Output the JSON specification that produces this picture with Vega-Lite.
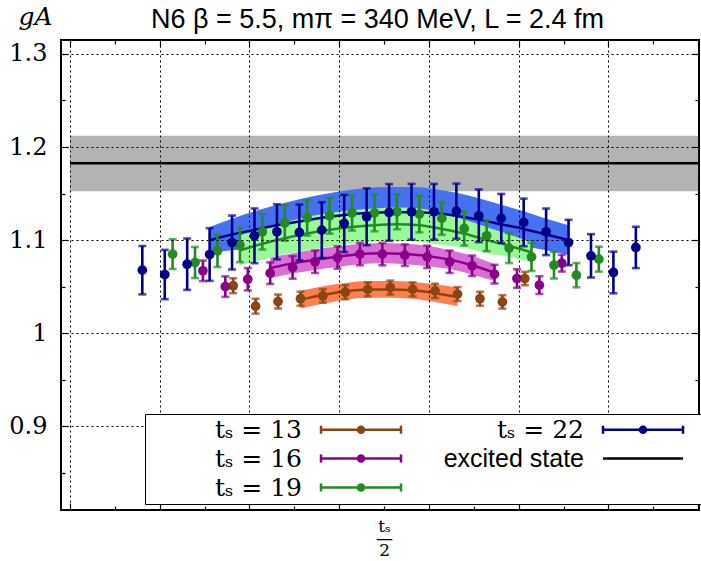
{
  "$schema": "https://vega.github.io/schema/vega-lite/v6.json",
  "width": 638,
  "height": 470,
  "autosize": {"type": "none"},
  "padding": {"left": 61, "top": 40, "right": 2, "bottom": 51},
  "background": "white",
  "config": {"view": {"stroke": "black", "strokeWidth": 2}},
  "datasets": {
    "excited": [{"series": "excited state", "g": 1.1825, "lo": 1.1524, "hi": 1.2121, "from": -14, "to": 14}],
    "keys": [{"series": "tₛ = 13"}, {"series": "tₛ = 16"}, {"series": "tₛ = 19"}, {"series": "tₛ = 22"}, {"series": "excited state"}],
    "bands": [
      {"series": "tₛ = 22", "x": -7.775, "c": 1.100, "lo": 1.086, "hi": 1.114},
      {"series": "tₛ = 22", "x": -6.775, "c": 1.106, "lo": 1.089, "hi": 1.123},
      {"series": "tₛ = 22", "x": -5.775, "c": 1.111, "lo": 1.091, "hi": 1.131},
      {"series": "tₛ = 22", "x": -4.775, "c": 1.116, "lo": 1.094, "hi": 1.138},
      {"series": "tₛ = 22", "x": -3.775, "c": 1.120, "lo": 1.096, "hi": 1.144},
      {"series": "tₛ = 22", "x": -2.775, "c": 1.124, "lo": 1.099, "hi": 1.149},
      {"series": "tₛ = 22", "x": -1.775, "c": 1.127, "lo": 1.101, "hi": 1.153},
      {"series": "tₛ = 22", "x": -0.775, "c": 1.129, "lo": 1.102, "hi": 1.156},
      {"series": "tₛ = 22", "x": 0.225, "c": 1.130, "lo": 1.103, "hi": 1.157},
      {"series": "tₛ = 22", "x": 1.225, "c": 1.130, "lo": 1.103, "hi": 1.157},
      {"series": "tₛ = 22", "x": 2.225, "c": 1.129, "lo": 1.103, "hi": 1.155},
      {"series": "tₛ = 22", "x": 3.225, "c": 1.126, "lo": 1.101, "hi": 1.151},
      {"series": "tₛ = 22", "x": 4.225, "c": 1.122, "lo": 1.099, "hi": 1.145},
      {"series": "tₛ = 22", "x": 5.225, "c": 1.117, "lo": 1.096, "hi": 1.138},
      {"series": "tₛ = 22", "x": 6.225, "c": 1.112, "lo": 1.093, "hi": 1.131},
      {"series": "tₛ = 22", "x": 7.225, "c": 1.106, "lo": 1.089, "hi": 1.123},
      {"series": "tₛ = 22", "x": 8.225, "c": 1.100, "lo": 1.084, "hi": 1.116},
      {"series": "tₛ = 19", "x": -6.425, "c": 1.089, "lo": 1.073, "hi": 1.105},
      {"series": "tₛ = 19", "x": -5.425, "c": 1.096, "lo": 1.079, "hi": 1.113},
      {"series": "tₛ = 19", "x": -4.425, "c": 1.102, "lo": 1.085, "hi": 1.119},
      {"series": "tₛ = 19", "x": -3.425, "c": 1.107, "lo": 1.089, "hi": 1.125},
      {"series": "tₛ = 19", "x": -2.425, "c": 1.111, "lo": 1.093, "hi": 1.129},
      {"series": "tₛ = 19", "x": -1.425, "c": 1.114, "lo": 1.096, "hi": 1.132},
      {"series": "tₛ = 19", "x": -0.425, "c": 1.116, "lo": 1.098, "hi": 1.134},
      {"series": "tₛ = 19", "x": 0.575, "c": 1.117, "lo": 1.099, "hi": 1.135},
      {"series": "tₛ = 19", "x": 1.575, "c": 1.116, "lo": 1.098, "hi": 1.134},
      {"series": "tₛ = 19", "x": 2.575, "c": 1.112, "lo": 1.095, "hi": 1.129},
      {"series": "tₛ = 19", "x": 3.575, "c": 1.107, "lo": 1.092, "hi": 1.122},
      {"series": "tₛ = 19", "x": 4.575, "c": 1.100, "lo": 1.086, "hi": 1.114},
      {"series": "tₛ = 19", "x": 5.575, "c": 1.094, "lo": 1.082, "hi": 1.106},
      {"series": "tₛ = 19", "x": 6.575, "c": 1.087, "lo": 1.076, "hi": 1.098},
      {"series": "tₛ = 16", "x": -5.075, "c": 1.070, "lo": 1.059, "hi": 1.081},
      {"series": "tₛ = 16", "x": -4.075, "c": 1.075, "lo": 1.064, "hi": 1.086},
      {"series": "tₛ = 16", "x": -3.075, "c": 1.079, "lo": 1.068, "hi": 1.090},
      {"series": "tₛ = 16", "x": -2.075, "c": 1.082, "lo": 1.071, "hi": 1.093},
      {"series": "tₛ = 16", "x": -1.075, "c": 1.085, "lo": 1.074, "hi": 1.096},
      {"series": "tₛ = 16", "x": -0.075, "c": 1.086, "lo": 1.075, "hi": 1.097},
      {"series": "tₛ = 16", "x": 0.925, "c": 1.085, "lo": 1.074, "hi": 1.096},
      {"series": "tₛ = 16", "x": 1.925, "c": 1.083, "lo": 1.072, "hi": 1.094},
      {"series": "tₛ = 16", "x": 2.925, "c": 1.079, "lo": 1.069, "hi": 1.089},
      {"series": "tₛ = 16", "x": 3.925, "c": 1.073, "lo": 1.063, "hi": 1.083},
      {"series": "tₛ = 16", "x": 4.925, "c": 1.065, "lo": 1.056, "hi": 1.074},
      {"series": "tₛ = 13", "x": -3.725, "c": 1.036, "lo": 1.0265, "hi": 1.0455},
      {"series": "tₛ = 13", "x": -2.725, "c": 1.041, "lo": 1.0315, "hi": 1.0505},
      {"series": "tₛ = 13", "x": -1.725, "c": 1.045, "lo": 1.036, "hi": 1.054},
      {"series": "tₛ = 13", "x": -0.725, "c": 1.047, "lo": 1.038, "hi": 1.056},
      {"series": "tₛ = 13", "x": 0.275, "c": 1.047, "lo": 1.038, "hi": 1.056},
      {"series": "tₛ = 13", "x": 1.275, "c": 1.046, "lo": 1.037, "hi": 1.055},
      {"series": "tₛ = 13", "x": 2.275, "c": 1.043, "lo": 1.0335, "hi": 1.0525},
      {"series": "tₛ = 13", "x": 3.275, "c": 1.039, "lo": 1.029, "hi": 1.049}
    ],
    "points": [
      {"series": "tₛ = 13", "x": -6.725, "g": 1.051, "e": 0.008},
      {"series": "tₛ = 13", "x": -5.725, "g": 1.029, "e": 0.008},
      {"series": "tₛ = 13", "x": -4.725, "g": 1.034, "e": 0.0075},
      {"series": "tₛ = 13", "x": -3.725, "g": 1.037, "e": 0.0075},
      {"series": "tₛ = 13", "x": -2.725, "g": 1.040, "e": 0.0072},
      {"series": "tₛ = 13", "x": -1.725, "g": 1.044, "e": 0.0075},
      {"series": "tₛ = 13", "x": -0.725, "g": 1.047, "e": 0.0075},
      {"series": "tₛ = 13", "x": 0.275, "g": 1.049, "e": 0.0075},
      {"series": "tₛ = 13", "x": 1.275, "g": 1.047, "e": 0.0075},
      {"series": "tₛ = 13", "x": 2.275, "g": 1.0455, "e": 0.0077},
      {"series": "tₛ = 13", "x": 3.275, "g": 1.042, "e": 0.0075},
      {"series": "tₛ = 13", "x": 4.275, "g": 1.037, "e": 0.0075},
      {"series": "tₛ = 13", "x": 5.275, "g": 1.0336, "e": 0.0072},
      {"series": "tₛ = 13", "x": 6.275, "g": 1.0587, "e": 0.0072},
      {"series": "tₛ = 16", "x": -8.075, "g": 1.067, "e": 0.011},
      {"series": "tₛ = 16", "x": -7.075, "g": 1.050, "e": 0.011},
      {"series": "tₛ = 16", "x": -6.075, "g": 1.058, "e": 0.012},
      {"series": "tₛ = 16", "x": -5.075, "g": 1.0645, "e": 0.0116},
      {"series": "tₛ = 16", "x": -4.075, "g": 1.0706, "e": 0.012},
      {"series": "tₛ = 16", "x": -3.075, "g": 1.0767, "e": 0.012},
      {"series": "tₛ = 16", "x": -2.075, "g": 1.0813, "e": 0.012},
      {"series": "tₛ = 16", "x": -1.075, "g": 1.0849, "e": 0.012},
      {"series": "tₛ = 16", "x": -0.075, "g": 1.0849, "e": 0.012},
      {"series": "tₛ = 16", "x": 0.925, "g": 1.0838, "e": 0.0115},
      {"series": "tₛ = 16", "x": 1.925, "g": 1.082, "e": 0.012},
      {"series": "tₛ = 16", "x": 2.925, "g": 1.0767, "e": 0.012},
      {"series": "tₛ = 16", "x": 3.925, "g": 1.0724, "e": 0.011},
      {"series": "tₛ = 16", "x": 4.925, "g": 1.0634, "e": 0.010},
      {"series": "tₛ = 16", "x": 5.925, "g": 1.0587, "e": 0.010},
      {"series": "tₛ = 16", "x": 6.925, "g": 1.0516, "e": 0.0095},
      {"series": "tₛ = 16", "x": 7.925, "g": 1.0752, "e": 0.009},
      {"series": "tₛ = 19", "x": -9.425, "g": 1.0849, "e": 0.016},
      {"series": "tₛ = 19", "x": -8.425, "g": 1.0759, "e": 0.0167},
      {"series": "tₛ = 19", "x": -7.425, "g": 1.0885, "e": 0.0174},
      {"series": "tₛ = 19", "x": -6.425, "g": 1.0946, "e": 0.0183},
      {"series": "tₛ = 19", "x": -5.425, "g": 1.1089, "e": 0.019},
      {"series": "tₛ = 19", "x": -4.425, "g": 1.1183, "e": 0.019},
      {"series": "tₛ = 19", "x": -3.425, "g": 1.1238, "e": 0.019},
      {"series": "tₛ = 19", "x": -2.425, "g": 1.1261, "e": 0.0192},
      {"series": "tₛ = 19", "x": -1.425, "g": 1.1292, "e": 0.019},
      {"series": "tₛ = 19", "x": -0.425, "g": 1.1292, "e": 0.0197},
      {"series": "tₛ = 19", "x": 0.575, "g": 1.1304, "e": 0.0188},
      {"series": "tₛ = 19", "x": 1.575, "g": 1.128, "e": 0.0197},
      {"series": "tₛ = 19", "x": 2.575, "g": 1.1233, "e": 0.0176},
      {"series": "tₛ = 19", "x": 3.575, "g": 1.1125, "e": 0.0183},
      {"series": "tₛ = 19", "x": 4.575, "g": 1.1046, "e": 0.0165},
      {"series": "tₛ = 19", "x": 5.575, "g": 1.0914, "e": 0.0161},
      {"series": "tₛ = 19", "x": 6.575, "g": 1.082, "e": 0.0152},
      {"series": "tₛ = 19", "x": 7.575, "g": 1.073, "e": 0.0143},
      {"series": "tₛ = 19", "x": 8.575, "g": 1.0623, "e": 0.013},
      {"series": "tₛ = 19", "x": 9.575, "g": 1.0795, "e": 0.0134},
      {"series": "tₛ = 22", "x": -10.775, "g": 1.0677, "e": 0.026},
      {"series": "tₛ = 22", "x": -9.775, "g": 1.063, "e": 0.0265},
      {"series": "tₛ = 22", "x": -8.775, "g": 1.0741, "e": 0.0276},
      {"series": "tₛ = 22", "x": -7.775, "g": 1.0845, "e": 0.0283},
      {"series": "tₛ = 22", "x": -6.775, "g": 1.0974, "e": 0.029},
      {"series": "tₛ = 22", "x": -5.775, "g": 1.1046, "e": 0.0294},
      {"series": "tₛ = 22", "x": -4.775, "g": 1.1089, "e": 0.0296},
      {"series": "tₛ = 22", "x": -3.775, "g": 1.1082, "e": 0.030},
      {"series": "tₛ = 22", "x": -2.775, "g": 1.1107, "e": 0.030},
      {"series": "tₛ = 22", "x": -1.775, "g": 1.1179, "e": 0.0308},
      {"series": "tₛ = 22", "x": -0.775, "g": 1.125, "e": 0.0306},
      {"series": "tₛ = 22", "x": 0.225, "g": 1.1297, "e": 0.0305},
      {"series": "tₛ = 22", "x": 1.225, "g": 1.1304, "e": 0.030},
      {"series": "tₛ = 22", "x": 2.225, "g": 1.1304, "e": 0.030},
      {"series": "tₛ = 22", "x": 3.225, "g": 1.1311, "e": 0.0296},
      {"series": "tₛ = 22", "x": 4.225, "g": 1.1261, "e": 0.0283},
      {"series": "tₛ = 22", "x": 5.225, "g": 1.1233, "e": 0.0263},
      {"series": "tₛ = 22", "x": 6.225, "g": 1.119, "e": 0.0256},
      {"series": "tₛ = 22", "x": 7.225, "g": 1.1089, "e": 0.025},
      {"series": "tₛ = 22", "x": 8.225, "g": 1.0974, "e": 0.0244},
      {"series": "tₛ = 22", "x": 9.225, "g": 1.0831, "e": 0.0233},
      {"series": "tₛ = 22", "x": 10.225, "g": 1.0652, "e": 0.0224},
      {"series": "tₛ = 22", "x": 11.225, "g": 1.0921, "e": 0.0222}
    ]
  },
  "layer": [
    {
      "data": {"name": "excited"},
      "mark": {"type": "rect", "color": "#b3b3b3"},
      "encoding": {
        "x": {"field": "from", "type": "quantitative", "scale": {"domain": [-14.4, 14.04], "nice": false, "zero": false},
          "axis": {"orient": "bottom", "values": [-14, -12, -10, -8, -6, -4, -2, 0, 2, 4, 6, 8, 10, 12, 14], "title": null, "domain": false,
            "grid": true, "gridColor": "black", "gridDash": [2, 3], "gridWidth": 1,
            "gridOpacity": {"condition": {"test": "(datum.value + 16) % 4 == 2", "value": 1}, "value": 0},
            "ticks": true, "tickColor": "black", "tickWidth": 1.2,
            "tickSize": {"condition": {"test": "(datum.value + 16) % 4 == 2", "value": -7}, "value": -4},
            "labelExpr": "datum.value == 0 ? ['tₛ', '—', '2'] : ''",
            "labelFont": "DejaVu Serif", "labelFontSize": 17, "labelColor": "black", "labelBaseline": "top", "labelPadding": 12, "labelLineHeight": 12,
            "labelOverlap": false, "labelFlush": false, "labelBound": false, "zindex": 1}},
        "x2": {"field": "to"},
        "y": {"field": "lo", "type": "quantitative", "scale": {"domain": [0.81, 1.315], "nice": false, "zero": false},
          "axis": {"orient": "left", "values": [0.85, 0.9, 0.95, 1, 1.05, 1.1, 1.15, 1.2, 1.25, 1.3], "domain": false,
            "grid": true, "gridColor": "black", "gridDash": [2, 3], "gridWidth": 1,
            "gridOpacity": {"condition": {"test": "abs(datum.value*10 - round(datum.value*10)) < 0.001", "value": 1}, "value": 0},
            "ticks": true, "tickColor": "black", "tickWidth": 1.2,
            "tickSize": {"condition": {"test": "abs(datum.value*10 - round(datum.value*10)) < 0.001", "value": -7}, "value": -4},
            "labelExpr": "abs(datum.value*10 - round(datum.value*10)) < 0.001 ? format(datum.value, '~g') : ''",
            "labelFont": "DejaVu Serif", "labelFontSize": 24, "labelPadding": 21, "labelColor": "black", "labelOverlap": false,
            "title": "gA", "titleFont": "DejaVu Serif", "titleFontStyle": "italic", "titleFontWeight": "normal", "titleFontSize": 25,
            "titleAngle": 0, "titleX": -26, "titleY": -16, "titleAlign": "center", "titleBaseline": "alphabetic", "titleColor": "black", "zindex": 1}},
        "y2": {"field": "hi"}
      }
    },
    {
      "data": {"name": "excited"},
      "mark": {"type": "rule", "color": "black", "strokeWidth": 2.5},
      "encoding": {
        "x": {"field": "from", "type": "quantitative",
          "axis": {"orient": "top", "values": [-14, -12, -10, -8, -6, -4, -2, 0, 2, 4, 6, 8, 10, 12, 14], "domain": false, "grid": false, "labels": false,
            "ticks": true, "tickColor": "black", "tickWidth": 1.2,
            "tickSize": {"condition": {"test": "(datum.value + 16) % 4 == 2", "value": -7}, "value": -4},
            "title": "N6 β = 5.5, mπ = 340 MeV, L = 2.4 fm", "titleFont": "Liberation Sans", "titleFontSize": 27, "titleFontWeight": "normal",
            "titleAngle": 0, "titleX": 316, "titleY": -13, "titleAlign": "center", "titleBaseline": "alphabetic", "titleColor": "black", "zindex": 1}},
        "x2": {"field": "to"},
        "y": {"field": "g", "type": "quantitative",
          "axis": {"orient": "right", "values": [0.85, 0.9, 0.95, 1, 1.05, 1.1, 1.15, 1.2, 1.25, 1.3], "title": null, "domain": false, "grid": false, "labels": false,
            "ticks": true, "tickColor": "black", "tickWidth": 1.2,
            "tickSize": {"condition": {"test": "abs(datum.value*10 - round(datum.value*10)) < 0.001", "value": -7}, "value": -4}, "zindex": 1}}
      }
    },
    {
      "data": {"name": "bands"},
      "mark": {"type": "area", "interpolate": "monotone", "opacity": 1},
      "encoding": {
        "x": {"field": "x", "type": "quantitative", "axis": null},
        "y": {"field": "lo", "type": "quantitative", "axis": null, "stack": null},
        "y2": {"field": "hi"},
        "color": {"field": "series", "type": "nominal", "legend": null,
          "scale": {"domain": ["tₛ = 22", "tₛ = 19", "tₛ = 16", "tₛ = 13"], "range": ["#4672f2", "#98fb98", "#da70d6", "#ff7f50"]}}
      }
    },
    {
      "data": {"name": "bands"},
      "mark": {"type": "line", "interpolate": "monotone", "strokeWidth": 2.5},
      "encoding": {
        "x": {"field": "x", "type": "quantitative", "axis": null},
        "y": {"field": "c", "type": "quantitative", "axis": null},
        "color": {"field": "series", "type": "nominal", "legend": null,
          "scale": {"domain": ["tₛ = 13", "tₛ = 16", "tₛ = 19", "tₛ = 22"], "range": ["#8b4513", "#8b008b", "#228b22", "#00008b"]}}
      }
    },
    {
      "data": {"name": "points"},
      "mark": {"type": "errorbar", "ticks": {"size": 8, "thickness": 2.6}, "thickness": 2.6},
      "encoding": {
        "x": {"field": "x", "type": "quantitative", "axis": null},
        "y": {"field": "g", "type": "quantitative", "axis": null},
        "yError": {"field": "e"},
        "color": {"field": "series", "type": "nominal", "legend": null,
          "scale": {"domain": ["tₛ = 13", "tₛ = 16", "tₛ = 19", "tₛ = 22"], "range": ["#8b4513", "#8b008b", "#228b22", "#00008b"]}}
      }
    },
    {
      "data": {"name": "points"},
      "mark": {"type": "point", "filled": true, "size": 95, "opacity": 1},
      "encoding": {
        "x": {"field": "x", "type": "quantitative", "axis": null},
        "y": {"field": "g", "type": "quantitative", "axis": null},
        "color": {"field": "series", "type": "nominal", "legend": null,
          "scale": {"domain": ["tₛ = 13", "tₛ = 16", "tₛ = 19", "tₛ = 22"], "range": ["#8b4513", "#8b008b", "#228b22", "#00008b"]}}
      }
    },
    {
      "data": {"name": "keys"},
      "mark": {"type": "point", "filled": false, "opacity": 0},
      "encoding": {
        "color": {"field": "series", "type": "nominal",
          "scale": {"domain": ["tₛ = 13", "tₛ = 16", "tₛ = 19", "tₛ = 22", "excited state"], "range": ["#8b4513", "#8b008b", "#228b22", "#00008b", "black"]},
          "legend": {"title": null, "orient": "none", "legendX": 84, "legendY": 374, "columns": 2, "direction": "vertical",
            "symbolSize": 400, "symbolStrokeWidth": 2.5, "symbolOpacity": 1,
            "labelFont": {"expr": "datum.value == 'excited state' ? 'Liberation Sans' : 'DejaVu Serif'"},
            "labelFontSize": 25, "labelAlign": "right", "labelOffset": 129, "labelColor": "black", "labelLimit": 300,
            "padding": 3, "rowPadding": 3, "columnPadding": 5, "strokeColor": "black", "fillColor": "white", "zindex": 2}},
        "shape": {"field": "series", "type": "nominal",
          "scale": {"domain": ["tₛ = 13", "tₛ = 16", "tₛ = 19", "tₛ = 22", "excited state"],
            "range": [
              "M16.05,0H24.05M16.05,-0.4V0.4M24.05,-0.4V0.4M20.35,0A0.3,0.3,0,1,1,19.75,0A0.3,0.3,0,1,1,20.35,0M20.19,0A0.14,0.14,0,1,1,19.91,0A0.14,0.14,0,1,1,20.19,0M-1.15,0M25.55,0",
              "M16.05,0H24.05M16.05,-0.4V0.4M24.05,-0.4V0.4M20.35,0A0.3,0.3,0,1,1,19.75,0A0.3,0.3,0,1,1,20.35,0M20.19,0A0.14,0.14,0,1,1,19.91,0A0.14,0.14,0,1,1,20.19,0M-1.15,0M25.55,0",
              "M16.05,0H24.05M16.05,-0.4V0.4M24.05,-0.4V0.4M20.35,0A0.3,0.3,0,1,1,19.75,0A0.3,0.3,0,1,1,20.35,0M20.19,0A0.14,0.14,0,1,1,19.91,0A0.14,0.14,0,1,1,20.19,0M-1.15,0M25.55,0",
              "M16.05,0H24.05M16.05,-0.4V0.4M24.05,-0.4V0.4M20.35,0A0.3,0.3,0,1,1,19.75,0A0.3,0.3,0,1,1,20.35,0M20.19,0A0.14,0.14,0,1,1,19.91,0A0.14,0.14,0,1,1,20.19,0M-1.15,0M25.55,0",
              "M16.05,0H24.05M-1.15,0M25.55,0"
            ]}}
      }
    }
  ],
  "resolve": {"scale": {"color": "independent", "shape": "independent"}, "axis": {"x": "independent", "y": "independent"}}
}
